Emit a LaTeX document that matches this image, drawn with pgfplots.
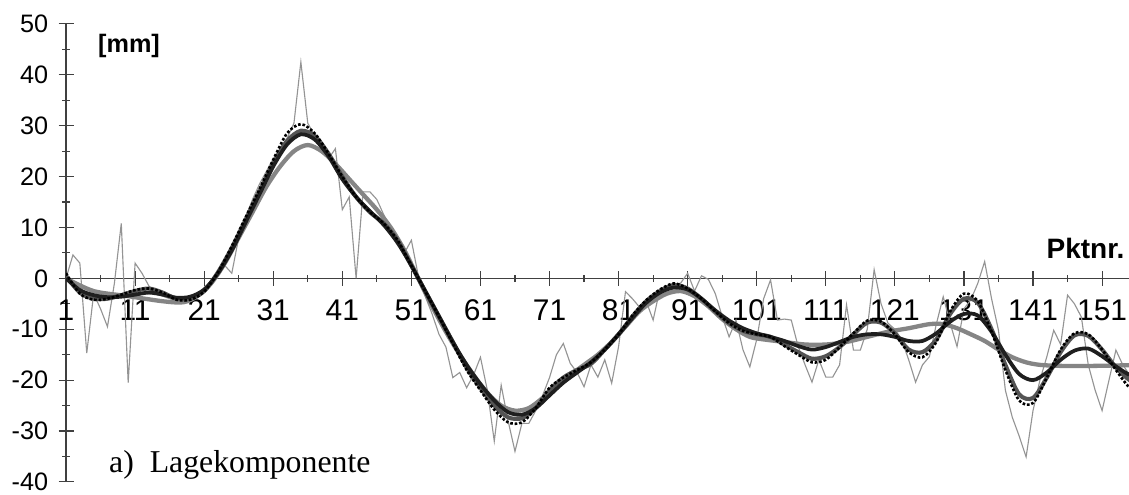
\documentclass[border=0pt]{standalone}
\usepackage{fontspec}
\setmainfont{Liberation Sans}
\newfontfamily\seriffont{Liberation Serif}
\usepackage{pgfplots}
\pgfplotsset{compat=1.18}
\usepackage{pgfplotstable}

\definecolor{rawc}{gray}{0.58}
\definecolor{dc}{gray}{0.52}
\definecolor{bc}{gray}{0.33}
\definecolor{ac}{gray}{0.12}

\pgfplotstableread{
n v
1 0
2 4.6
3 3
4 -14.7
5 -3
6 -6
7 -9.5
8 -1
9 10.8
10 -20.5
11 3
12 1
13 -1.5
14 -3
15 -3.5
16 -4
17 -4.5
18 -4.8
19 -4.2
20 -3.5
21 -2
22 -0.5
23 1.5
24 2.5
25 1
26 8
27 12
28 15.5
29 18.5
30 21
31 23.5
32 25.5
33 27.5
34 30.5
35 42.5
36 30.5
37 28
38 26
39 23.5
40 25.5
41 13.5
42 16
43 0
44 17
45 17
46 15.5
47 12.5
48 10
49 7.5
50 5
51 7.5
52 0.5
53 -3.5
54 -7
55 -11
56 -13.5
57 -19.5
58 -18.5
59 -21.5
60 -19
61 -15.5
62 -22
63 -32
64 -21
65 -28
66 -34
67 -28.5
68 -28.5
69 -26
70 -23
71 -19.5
72 -15
73 -12.8
74 -16.7
75 -18.5
76 -21.3
77 -17
78 -19.4
79 -16
80 -20.6
81 -13.4
82 -2.6
83 -4
84 -5.6
85 -4.5
86 -8.2
87 -2
88 -1.5
89 -1.5
90 -0.9
91 1
92 -2.5
93 0.5
94 -0.2
95 -3
96 -7.5
97 -11.5
98 -8.2
99 -14
100 -17.4
101 -12
102 -4
103 -0.3
104 -8.2
105 -8
106 -8.2
107 -13.4
108 -17
109 -20.4
110 -16
111 -19.4
112 -19.4
113 -17
114 -5.2
115 -14.1
116 -14.1
117 -10
118 1.7
119 -5
120 -8.8
121 -10
122 -12.1
123 -16
124 -20.4
125 -17
126 -15.4
127 -9
128 -3.6
129 -8.8
130 -13.4
131 -6
132 -4.2
133 -1
134 3.3
135 -4
136 -10.2
137 -22
138 -27.3
139 -31
140 -35.1
141 -26
142 -20
143 -15.4
144 -10.2
145 -13
146 -3.3
147 -5
148 -7.6
149 -17
150 -22
151 -26
152 -20
153 -14.1
154 -17
155 -19
156 -21
}\rawdata

\pgfplotstableread{
n v
1 0
3 -2.3
5 -3.3
7 -3.7
9 -3.6
11 -3.2
13 -2.8
15 -3.2
17 -3.8
19 -3.6
21 -2.2
23 1
25 5.5
27 11
29 16.5
31 22
33 26.3
35 28.3
37 27.3
39 24
41 19.5
43 16
45 13.2
47 10.5
49 7
51 2.5
53 -2.5
55 -7.5
57 -12.5
59 -17
61 -20.8
63 -24
65 -26.3
67 -26.8
69 -25.5
71 -23
73 -20.5
75 -18.5
77 -16.5
79 -14
81 -11
83 -7.8
85 -4.8
87 -2.8
89 -1.8
91 -2.2
93 -4
95 -6.3
97 -8.3
99 -9.8
101 -10.8
103 -11.5
105 -12.3
107 -13.3
109 -14
111 -13.5
113 -12.5
115 -11.5
117 -11
119 -11
121 -11.5
123 -12.3
125 -12.3
127 -10.8
129 -8.5
131 -7
133 -7.3
135 -10.5
137 -15
139 -18.8
141 -20
143 -18.5
145 -16
147 -14.2
149 -13.8
151 -15.3
153 -17.3
155 -19
157 -20
}\adata

\pgfplotstableread{
n v
1 0.5
3 -2.8
5 -4
7 -4
9 -3.3
11 -2.5
13 -2
15 -2.8
17 -4
19 -4
21 -2.5
23 1.2
25 6
27 11.5
29 17
31 22.5
33 27
35 29
37 28
39 24.5
41 20
43 16
45 13
47 10.8
49 7.5
51 2.5
53 -2.5
55 -7.5
57 -12.5
59 -17.5
61 -21.5
63 -25
65 -27.3
67 -27.5
69 -25.5
71 -22
73 -19.5
75 -18
77 -16.8
79 -14
81 -11
83 -7.5
85 -4.5
87 -2.5
89 -1.3
91 -2
93 -4
95 -6.5
97 -8.8
99 -10.3
101 -11
103 -11.5
105 -13
107 -14.5
109 -15.8
111 -15.3
113 -13.5
115 -11
117 -8.7
119 -8.7
121 -10.8
123 -14
125 -14.5
127 -12
129 -7
131 -4
133 -4.8
135 -10
137 -17
139 -22.8
141 -23.5
143 -19.5
145 -14.5
147 -11.2
149 -11.3
151 -14
153 -17.5
155 -20
157 -21
}\bdata

\pgfplotstableread{
n v
1 1
3 -3
5 -4.2
7 -4
9 -3.2
11 -2.3
13 -2
15 -2.8
17 -4.2
19 -4.2
21 -2.6
23 1.2
25 6.3
27 12
29 17.5
31 23.3
33 28.5
35 30.3
37 28.5
39 24.5
41 20
43 16
45 13
47 10.8
49 7.5
51 2.5
53 -2.5
55 -7.5
57 -12.8
59 -18
61 -22
63 -25.8
65 -28.3
67 -28.3
69 -25.5
71 -21.5
73 -19.5
75 -18
77 -16.5
79 -14
81 -11
83 -7.3
85 -4.3
87 -2.2
89 -1
91 -2
93 -4
95 -6.5
97 -8.8
99 -10.3
101 -11
103 -11.5
105 -13.3
107 -15
109 -16.5
111 -16
113 -13.5
115 -10.8
117 -8.3
119 -8.5
121 -11
123 -14.5
125 -15.5
127 -12.5
129 -6.5
131 -3
133 -4.5
135 -10.5
137 -18
139 -24
141 -24.5
143 -19.5
145 -14
147 -10.8
149 -11
151 -14
153 -18
155 -21.5
157 -23
}\cdata

\pgfplotstableread{
n v
1 0
5 -2.5
10 -3.5
15 -4.5
18 -4.7
20 -3.5
22 -1
24 3
26 8
28 13
30 18
32 22
34 25
36 26.2
38 25
40 22.5
42 19.5
44 16.5
46 13.5
48 10
50 5.5
52 0
54 -5.5
56 -10.5
58 -15
60 -19
62 -22.5
64 -25
66 -26
68 -25.5
70 -23.5
72 -21
74 -19
76 -17
78 -15
80 -12.5
82 -9.5
84 -6.5
86 -4.5
88 -3
90 -2.5
92 -3.5
94 -5.5
96 -8
98 -10
100 -11.5
102 -12
105 -12.5
108 -13
111 -13
114 -12.5
117 -11.5
120 -10.5
123 -9.8
126 -9
128 -9
130 -9.8
132 -11
134 -12.3
136 -14
138 -15.5
140 -16.5
142 -17
145 -17.2
150 -17.2
157 -17
}\ddata

\begin{document}
\begin{tikzpicture}
\begin{axis}[
  scale only axis,
  width=569pt, height=245pt,
  xmin=1, xmax=155, ymin=-40, ymax=50,
  axis x line=middle, axis y line=left,
  axis line style={-, draw=black!75, line width=0.6pt},
  hide obscured x ticks=false, hide obscured y ticks=false,
  xtick={1,11,...,151}, ytick={-40,-30,...,50},
  minor x tick num=1, minor y tick num=1,
  tick align=center,
  major tick length=8pt, minor tick length=4pt,
  tick style={draw=black!75, line width=0.6pt},
  /pgf/number format/assume math mode=true,
  yticklabel style={font=\fontsize{13.5}{14}\selectfont, xshift=-2pt},
  xticklabel style={font=\fontsize{16}{17}\selectfont, yshift=-4pt},
  clip mode=individual,
]
\addplot[rawc, line width=0.6pt] table[x=n,y=v] {\rawdata};
\addplot[dc, line width=2.3pt, smooth] table[x=n,y=v] {\ddata};
\addplot[bc, line width=2.2pt, smooth] table[x=n,y=v] {\bdata};
\addplot[ac, line width=2pt, smooth] table[x=n,y=v] {\adata};
\addplot[black, line width=1.4pt, densely dotted, smooth] table[x=n,y=v] {\cdata};

\node[anchor=west, inner sep=0pt, font=\bfseries\fontsize{13.5}{14}\selectfont] at (axis cs:5.6,45.7) {[mm]};
\node[anchor=east, font=\bfseries\fontsize{15}{16}\selectfont, inner sep=0pt] at (axis cs:154.3,5.8) {Pktnr.};
\node[anchor=base west, font=\seriffont\fontsize{17}{18}\selectfont, inner sep=0pt] at (axis cs:7.2,-38.2) {a)\ \ Lagekomponente};
\coordinate (bl) at (axis cs:-8.56,-42.56);
\coordinate (tr) at (axis cs:154.9,54.7);
\end{axis}
\pgfresetboundingbox
\useasboundingbox (bl) rectangle (tr);
\end{tikzpicture}
\end{document}
